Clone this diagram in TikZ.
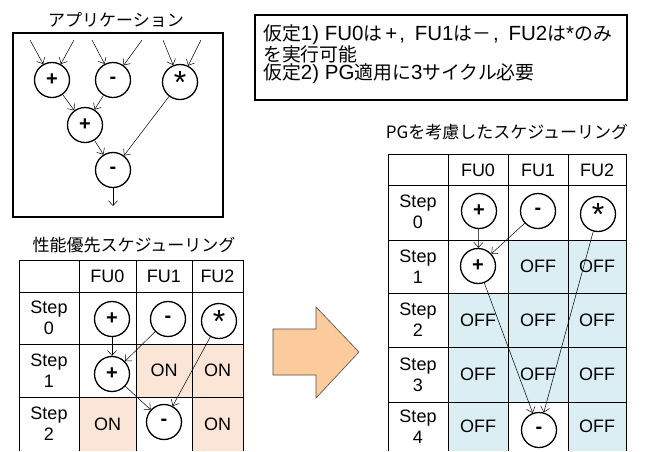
\documentclass[tikz,border=0pt]{standalone}
\usepackage{fontspec}
\setmainfont{Liberation Sans}
\newfontfamily\jp{Noto Sans CJK JP}
\newfontfamily\jpa[Scale=0.92]{Noto Sans CJK JP}
\usetikzlibrary{arrows.meta}
\definecolor{onfill}{HTML}{FBE5D6}
\definecolor{offfill}{HTML}{DAEEF3}
\definecolor{bigarrow}{HTML}{FCCB9B}
\newcommand\opplus{\textbf{+}}
\newcommand\opminus{\textbf{-}}
\newcommand\opstar{\raisebox{-8pt}{\fontsize{32}{32}\selectfont *}}
\begin{document}
\begin{tikzpicture}[x=1pt,y=-1pt,
  op/.style={circle,draw,line width=1.3pt,minimum size=35pt,inner sep=0pt,font=\fontsize{20}{20}\selectfont},
  arr/.style={-{Straight Barb[length=5pt,width=9pt]},line width=0.5pt},
  grid/.style={line width=0.8pt},
  cell/.style={font=\fontsize{18}{18}\selectfont},
  steplbl/.style={font=\fontsize{18}{21}\selectfont,align=center},
  title/.style={font=\jp\fontsize{17}{17}\selectfont}]
\useasboundingbox (0,0) rectangle (650,451);

% ---------- Application ----------
\node[title] (apptitle) at (116,20) {アプリケーション};
\draw[line width=1.6pt] (13,33) rectangle (223,217);
\node[op] (a1) at (52,80) {\opplus};
\node[op] (a2) at (113,80) {\opminus};
\node[op] (a3) at (180,82) {\opstar};
\node[op] (a4) at (85,125) {\opplus};
\node[op] (a5) at (113,170) {\opminus};
\coordinate (i1) at (30,40); \coordinate (i2) at (74,40);
\coordinate (i3) at (92,40); \coordinate (i4) at (142,40);
\coordinate (i5) at (163,40); \coordinate (i6) at (201,40);
\coordinate (out) at (113,206);
\draw[arr] (i1) -- (a1); \draw[arr] (i2) -- (a1);
\draw[arr] (i3) -- (a2); \draw[arr] (i4) -- (a2);
\draw[arr] (i5) -- (a3); \draw[arr] (i6) -- (a3);
\draw[arr] (a1) -- (a4); \draw[arr] (a2) -- (a4);
\draw[arr] (a4) -- (a5); \draw[arr] (a3) -- (a5);
\draw[arr] (a5) -- (out);

% ---------- Assumptions ----------
\draw[line width=1.3pt] (255,15) rectangle (627,100);
\node[anchor=north west,align=left,inner sep=0pt,font=\fontsize{20.5}{18.5}\selectfont] (assume) at (263,24)
  {{\jpa 仮定}1) FU0{\jpa は}\hspace{3pt}+\hspace{2pt},\hspace{4pt} FU1{\jpa は－}\hspace{2pt},\hspace{4pt} FU2{\jpa は}*{\jpa のみ}\\
   {\jpa を実行可能}\\
   {\jpa 仮定}2) PG{\jpa 適用に}3{\jpa サイクル必要}};

% ---------- Left table ----------
\node[title] (ltitle) at (134,245) {性能優先スケジューリング};
\fill[onfill] (136,344) rectangle (192,397);
\fill[onfill] (192,344) rectangle (243,397);
\fill[onfill] (79,397) rectangle (136,451);
\fill[onfill] (192,397) rectangle (243,451);
\foreach \x in {19,79,136,192,243} \draw[grid] (\x,260) -- (\x,451);
\foreach \y in {260,292,344,397} \draw[grid] (19,\y) -- (243,\y);
\node[cell] (lh0) at (107.5,276) {FU0};
\node[cell] (lh1) at (164,276) {FU1};
\node[cell] (lh2) at (217.5,276) {FU2};
\node[steplbl] (ls0) at (49,318) {Step\\0};
\node[steplbl] (ls1) at (49,370.5) {Step\\1};
\node[steplbl] (ls2) at (49,424) {Step\\2};
\node[cell] (lon1) at (164,370.5) {ON};
\node[cell] (lon2) at (217.5,370.5) {ON};
\node[cell] (lon3) at (107.5,424) {ON};
\node[cell] (lon4) at (217.5,424) {ON};
\node[op] (l1) at (112,319) {\opplus};
\node[op] (l2) at (168,319) {\opminus};
\node[op] (l3) at (219,321) {\opstar};
\node[op] (l4) at (112,374) {\opplus};
\node[op] (l5) at (164,422) {\opminus};
\draw[arr] (l1) -- (l4);
\draw[arr] (l2) -- (l4);
\draw[arr] (l4) -- (l5);
\draw[arr] (l3) -- (l5);

% ---------- Big arrow ----------
\draw[fill=bigarrow,draw=black!70,line width=0.6pt]
  (273,329) -- (316,329) -- (316,307) -- (359,352) -- (316,398) -- (316,375) -- (273,375) -- cycle;

% ---------- Right table ----------
\node[title] (rtitle) at (507,132) {PGを考慮したスケジューリング};
\fill[offfill] (508,240) rectangle (626,293);
\fill[offfill] (448,293) rectangle (626,402);
\fill[offfill] (448,402) rectangle (508,451);
\fill[offfill] (568,402) rectangle (626,451);
\foreach \x in {388,448,508,568,626} \draw[grid] (\x,154) -- (\x,451);
\foreach \y in {154,185,240,293,347,402} \draw[grid] (388,\y) -- (626,\y);
\node[cell] (rh0) at (478,170) {FU0};
\node[cell] (rh1) at (538,170) {FU1};
\node[cell] (rh2) at (597,170) {FU2};
\node[steplbl] (rs0) at (418,212) {Step\\0};
\node[steplbl] (rs1) at (418,266.5) {Step\\1};
\node[steplbl] (rs2) at (418,320) {Step\\2};
\node[steplbl] (rs3) at (418,374.5) {Step\\3};
\node[steplbl] (rs4) at (418,426.5) {Step\\4};
\node[cell] (ro1) at (538,266.5) {OFF};
\node[cell] (ro2) at (597,266.5) {OFF};
\node[cell] (ro3) at (478,320) {OFF};
\node[cell] (ro4) at (538,320) {OFF};
\node[cell] (ro5) at (597,320) {OFF};
\node[cell] (ro6) at (478,374.5) {OFF};
\node[cell] (ro7) at (538,374.5) {OFF};
\node[cell] (ro8) at (597,374.5) {OFF};
\node[cell] (ro9) at (478,426.5) {OFF};
\node[cell] (ro10) at (597,426.5) {OFF};
\node[op] (r1) at (479,211) {\opplus};
\node[op] (r2) at (538,211) {\opminus};
\node[op] (r3) at (598,214) {\opstar};
\node[op] (r4) at (478,266) {\opplus};
\node[op] (r5) at (539,430) {\opminus};
\draw[arr] (r1) -- (r4);
\draw[arr] (r2) -- (r4);
\draw[arr] (r4) -- (r5);
\draw[arr] (r3) -- (r5);
\end{tikzpicture}
\end{document}
